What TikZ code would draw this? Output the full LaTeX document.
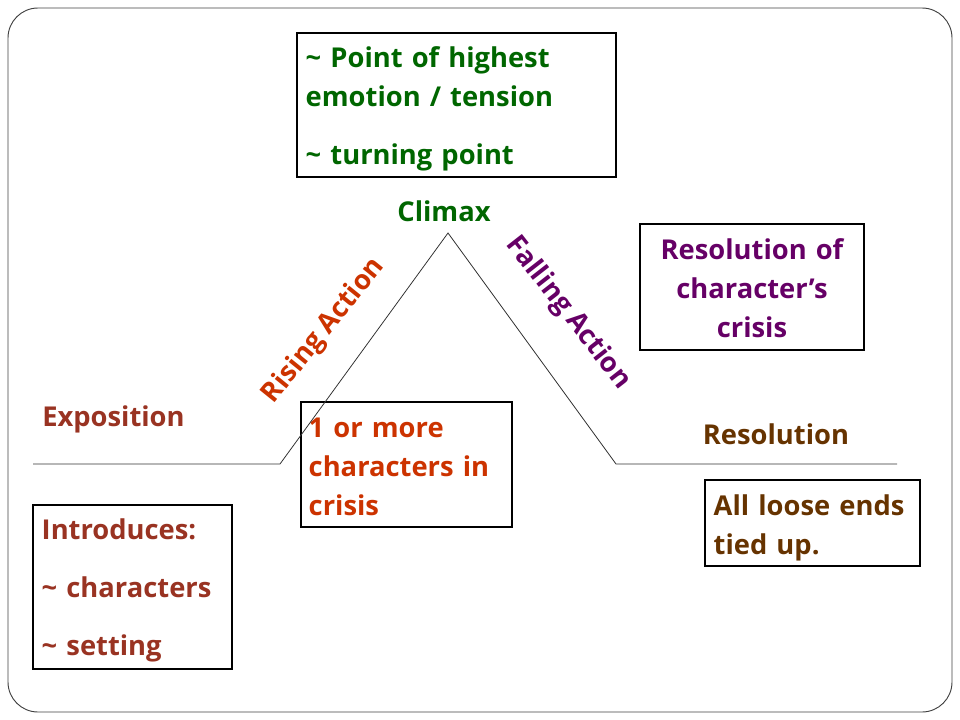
\documentclass[tikz,border=0pt]{standalone}
\usepackage{fontspec}
\setmainfont{Open Sans}
\definecolor{cgreen}{HTML}{006600}
\definecolor{corange}{HTML}{CC3300}
\definecolor{cpurple}{HTML}{660066}
\definecolor{cbrownred}{HTML}{993322}
\definecolor{cbrown}{HTML}{663300}
\definecolor{cframe}{HTML}{404040}
\begin{document}
\begin{tikzpicture}[x=0.75pt,y=-0.75pt,
  txt/.style={font=\bfseries\fontsize{20.5}{29.25}\selectfont, inner sep=0pt},
  ltxt/.style={txt, align=left, anchor=west},
  box/.style={draw=black, line width=0.8pt, inner sep=0pt},
  plotline/.style={draw=black!80, line width=0.6pt}]
\useasboundingbox (0,0) rectangle (960,720);
\draw[cframe, line width=0.7pt, rounded corners=22.5pt] (8,8) rectangle (952,712);

% boxes
\node[box, minimum width=239.25pt, minimum height=108pt] (climaxbox) at (456.5,105) {};
\node[ltxt, text=cgreen, text width=225pt] (climaxtxt) at ([xshift=6.75pt,yshift=-3pt]climaxbox.west)
  {\textasciitilde{} Point of highest\\ emotion / tension\\[14.25pt] \textasciitilde{} turning point};
\node[box, minimum width=168pt, minimum height=94.5pt] (fallbox) at (752,287) {};
\node[txt, text=cpurple, text width=164pt, align=center] (falltxt) at ([yshift=-1.2pt]fallbox.center)
  {Resolution of\\ character’s\\ crisis};
\node[box, minimum width=158.25pt, minimum height=93.75pt] (risebox) at (406.5,464.5) {};
\node[ltxt, text=corange, text width=148pt] (risetxt) at ([xshift=6pt,yshift=-1.5pt]risebox.west)
  {1 or more\\ characters in\\ crisis};
\node[box, minimum width=149.25pt, minimum height=123pt] (expbox) at (132.5,587) {};
\node[ltxt, text=cbrownred, text width=140pt] (exptxt) at ([xshift=6.75pt,yshift=-2.7pt]expbox.west)
  {Introduces:\\[14.25pt] \textasciitilde{} characters\\[14.25pt] \textasciitilde{} setting};
\node[box, minimum width=161.25pt, minimum height=64.5pt] (resbox) at (812.5,523) {};
\node[ltxt, text=cbrown, text width=152pt] (restxt) at ([xshift=6.75pt,yshift=-3.5pt]resbox.west)
  {All loose ends\\ tied up.};

% plot line
\coordinate (a) at (33,464);
\coordinate (b) at (280,464);
\coordinate (peak) at (448,233);
\coordinate (c) at (616,464);
\coordinate (d) at (897,464);
\draw[plotline] (a) -- (b) -- (peak) -- (c) -- (d);

% labels
\node[txt, text=cgreen] (climax) at (444,211) {Climax};
\node[txt, text=corange, rotate=51] (rising) at (324,331) {Rising Action};
\node[txt, text=cpurple, rotate=-52] (falling) at (568,313) {Falling Action};
\node[txt, text=cbrownred, anchor=west] (expo) at (42,419) {Exposition};
\node[txt, text=cbrown] (resol) at (776,434) {Resolution};
\end{tikzpicture}
\end{document}
